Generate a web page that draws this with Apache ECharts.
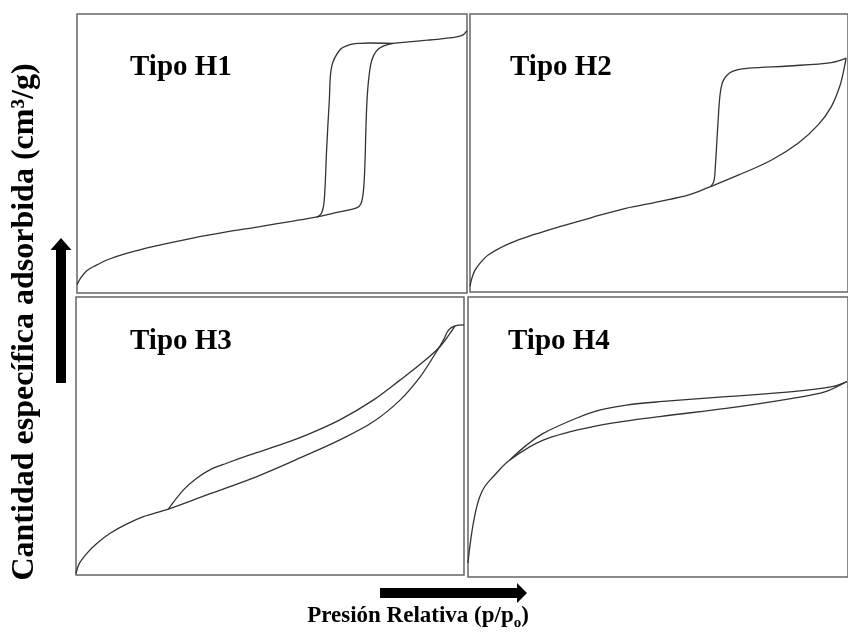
<!DOCTYPE html>
<html>
<head>
<meta charset="utf-8">
<script src="https://cdn.jsdelivr.net/npm/echarts@6/dist/echarts.min.js"></script>
<style>
html,body{margin:0;padding:0;background:#fff;}
#chart{width:848px;height:639px;}
</style>
</head>
<body>
<div id="chart"></div>
<script>
// Panel titles
var panelTitles = ['Tipo H1', 'Tipo H2', 'Tipo H3', 'Tipo H4'];
var yLabel = 'Cantidad específica adsorbida (cm³/g)';
var xLabelMain = 'Presión Relativa (p/p';
var xLabelSub = 'o';

// [relative pressure, normalized adsorbed amount]
var ads1 = [[0,0.03],[0.01,0.055],[0.025,0.08],[0.042,0.094],[0.08,0.12],[0.127,0.142],[0.2,0.168],[0.297,0.197],[0.38,0.218],[0.469,0.238],[0.55,0.257],[0.615,0.273],[0.67,0.29],[0.717,0.305],[0.728,0.32],[0.734,0.36],[0.738,0.45],[0.741,0.6],[0.744,0.7],[0.749,0.78],[0.756,0.835],[0.768,0.868],[0.785,0.885],[0.811,0.895],[0.85,0.9],[0.897,0.906],[0.94,0.912],[0.974,0.918],[0.99,0.925],[1.0,0.94]];
var des1 = [[0.811,0.895],[0.75,0.896],[0.726,0.895],[0.7,0.89],[0.674,0.871],[0.653,0.811],[0.647,0.692],[0.64,0.513],[0.634,0.333],[0.627,0.286],[0.615,0.271]];

var ads2 = [[0,0.02],[0.004,0.045],[0.012,0.075],[0.026,0.103],[0.05,0.135],[0.105,0.175],[0.17,0.207],[0.237,0.235],[0.32,0.267],[0.412,0.301],[0.5,0.325],[0.579,0.349],[0.636,0.379],[0.711,0.421],[0.798,0.475],[0.868,0.535],[0.921,0.601],[0.956,0.667],[0.978,0.739],[0.989,0.799],[0.995,0.841]];
var des2 = [[0.995,0.841],[0.956,0.825],[0.842,0.813],[0.737,0.805],[0.693,0.793],[0.671,0.763],[0.662,0.715],[0.656,0.607],[0.649,0.451],[0.645,0.397],[0.636,0.379]];

var ads3 = [[0,0.005],[0.008,0.04],[0.028,0.078],[0.055,0.115],[0.088,0.15],[0.13,0.183],[0.174,0.21],[0.238,0.237],[0.337,0.288],[0.466,0.354],[0.595,0.432],[0.68,0.486],[0.766,0.551],[0.835,0.629],[0.887,0.713],[0.921,0.785],[0.947,0.845],[0.96,0.881],[0.977,0.896],[1.0,0.9]];
var des3 = [[0.977,0.896],[0.964,0.869],[0.938,0.821],[0.895,0.767],[0.835,0.701],[0.766,0.629],[0.68,0.558],[0.595,0.504],[0.526,0.468],[0.448,0.432],[0.388,0.402],[0.345,0.378],[0.311,0.348],[0.277,0.306],[0.238,0.237]];

var ads4 = [[0,0.05],[0.004,0.1],[0.008,0.14],[0.014,0.192],[0.022,0.245],[0.031,0.287],[0.045,0.325],[0.066,0.358],[0.11,0.418],[0.198,0.489],[0.329,0.537],[0.504,0.573],[0.679,0.602],[0.854,0.638],[0.941,0.662],[0.997,0.698]];
var des4 = [[0.997,0.698],[0.959,0.68],[0.854,0.662],[0.679,0.644],[0.504,0.626],[0.417,0.614],[0.346,0.596],[0.285,0.567],[0.198,0.513],[0.154,0.471],[0.11,0.418]];

var panelData = [[ads1, des1], [ads2, des2], [ads3, des3], [ads4, des4]];

var gridsPos = [
  {left: 77, top: 14, width: 390, height: 279},
  {left: 470, top: 14, width: 380, height: 278},
  {left: 76, top: 297, width: 388, height: 278},
  {left: 468, top: 297, width: 382, height: 280}
];
var titlePos = [[130, 53], [510, 53], [130, 327], [508, 327]];

var FONT = '"Liberation Serif", "Times New Roman", serif';

var grids = [], xAxes = [], yAxes = [], series = [], graphics = [];
gridsPos.forEach(function (g, i) {
  grids.push(Object.assign({show: true, borderColor: '#666', borderWidth: 1.5, backgroundColor: '#fff'}, g));
  xAxes.push({type: 'value', gridIndex: i, min: 0, max: 1, show: false});
  yAxes.push({type: 'value', gridIndex: i, min: 0, max: 1, show: false});
  panelData[i].forEach(function (d) {
    series.push({
      type: 'line', xAxisIndex: i, yAxisIndex: i, data: d,
      showSymbol: false, smooth: 0.35, silent: true,
      lineStyle: {color: '#333', width: 1.3}
    });
  });
  graphics.push({
    type: 'text', left: titlePos[i][0], top: titlePos[i][1],
    style: {text: panelTitles[i], font: 'bold 29px ' + FONT, fill: '#000'}
  });
});

// y-axis label (rotated)
graphics.push({
  type: 'text', x: 25, y: 322, rotation: Math.PI / 2,
  style: {text: yLabel, font: 'bold 32px ' + FONT, fill: '#000', align: 'center', verticalAlign: 'middle'}
});
// x-axis label with subscript
graphics.push({
  type: 'text', x: 418, y: 616,
  style: {
    text: '{a|' + xLabelMain + '}{s|' + xLabelSub + '}{a|)}',
    align: 'center', verticalAlign: 'middle',
    rich: {
      a: {font: 'bold 23px ' + FONT, fill: '#000', lineHeight: 30},
      s: {font: 'bold 15px ' + FONT, fill: '#000', lineHeight: 12, verticalAlign: 'bottom'}
    }
  }
});
// arrows
graphics.push({
  type: 'polygon',
  shape: {points: [[56,383],[66,383],[66,250],[71.5,250],[61,238],[50.5,250],[56,250]]},
  style: {fill: '#000'}
});
graphics.push({
  type: 'polygon',
  shape: {points: [[380,588],[517,588],[517,583],[527,593],[517,603],[517,598],[380,598]]},
  style: {fill: '#000'}
});

var chart = echarts.init(document.getElementById('chart'), null, {renderer: 'canvas'});
chart.setOption({
  animation: false,
  backgroundColor: '#fff',
  grid: grids, xAxis: xAxes, yAxis: yAxes, series: series, graphic: graphics
});
</script>
</body>
</html>
